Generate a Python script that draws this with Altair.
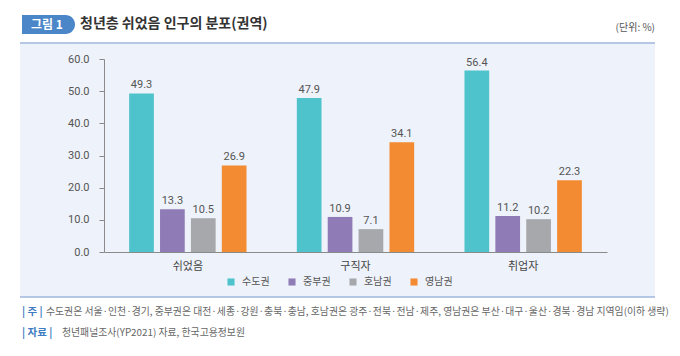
import altair as alt
import pandas as pd

categories = ["쉬었음", "구직자", "취업자"]
regions = ["수도권", "중부권", "호남권", "영남권"]
v_sudo = [49.3, 47.9, 56.4]
v_jungbu = [13.3, 10.9, 11.2]
v_honam = [10.5, 7.1, 10.2]
v_yeongnam = [26.9, 34.1, 22.3]
colors = ["#4fc3cb", "#8f7bb6", "#a6a8ab", "#f38b32"]
y_ticks = [0, 10, 20, 30, 40, 50, 60]

title_text = "청년층 쉬었음 인구의 분포(권역)"
badge_text = "그림 1"
unit_text = "(단위: %)"
note_label = "| 주 |"
note_text = "수도권은 서울·인천·경기, 중부권은 대전·세종·강원·충북·충남, 호남권은 광주·전북·전남·제주, 영남권은 부산·대구·울산·경북·경남 지역임(이하 생략)"
src_label = "| 자료 |"
src_text = "청년패널조사(YP2021) 자료, 한국고용정보원"

rows = []
for series, name in zip([v_sudo, v_jungbu, v_honam, v_yeongnam], regions):
    for c, v in zip(categories, series):
        rows.append({"cat": c, "region": name, "value": v})
df = pd.DataFrame(rows)

FONT = "Roboto, Noto Sans CJK KR"
KFONT = "Noto Sans CJK KR"
one = pd.DataFrame([{"a": 1}])

panel = alt.Chart(one).mark_rect(color="#eef2fa").encode(
    x=alt.value(-84), x2=alt.value(551), y=alt.value(-16), y2=alt.value(238))
top_line = alt.Chart(one).mark_rule(color="#9fb7de", strokeWidth=1.5).encode(
    x=alt.value(-84), x2=alt.value(551), y=alt.value(-16))
bot_line = alt.Chart(one).mark_rule(color="#9fb7de", strokeWidth=1.5).encode(
    x=alt.value(-84), x2=alt.value(551), y=alt.value(238))
badge = alt.Chart(one).mark_rect(color="#4b87c8", cornerRadiusTopRight=10,
                                 cornerRadiusBottomRight=10).encode(
    x=alt.value(-82), x2=alt.value(-29), y=alt.value(-44), y2=alt.value(-25))
badge_t = alt.Chart(one).mark_text(text=badge_text, color="white", fontWeight="bold",
                                   fontSize=12, font=KFONT, align="center",
                                   baseline="middle").encode(
    x=alt.value(-57), y=alt.value(-34.5))
title_t = alt.Chart(one).mark_text(text=title_text, color="#333333", fontWeight="bold",
                                   fontSize=14, font=KFONT, align="left",
                                   baseline="middle").encode(
    x=alt.value(-24), y=alt.value(-35))
unit_t = alt.Chart(one).mark_text(text=unit_text, color="#555555", fontSize=10,
                                  font=KFONT, align="right", baseline="middle").encode(
    x=alt.value(551), y=alt.value(-31))
note_l = alt.Chart(one).mark_text(text=note_label, color="#3f7cc2", fontWeight="bold",
                                  fontSize=10.5, font=KFONT, align="left",
                                  baseline="middle").encode(
    x=alt.value(-82), y=alt.value(253))
note_t = alt.Chart(one).mark_text(text=note_text, color="#666666", fontSize=9.85,
                                  font=KFONT, align="left", baseline="middle").encode(
    x=alt.value(-58), y=alt.value(253))
src_l = alt.Chart(one).mark_text(text=src_label, color="#3f7cc2", fontWeight="bold",
                                 fontSize=10.5, font=KFONT, align="left",
                                 baseline="middle").encode(
    x=alt.value(-82), y=alt.value(274))
src_t = alt.Chart(one).mark_text(text=src_text, color="#666666", fontSize=9.85,
                                 font=KFONT, align="left", baseline="middle").encode(
    x=alt.value(-42), y=alt.value(274))

xenc = alt.X("cat:N", sort=categories,
             scale=alt.Scale(paddingInner=0.3, paddingOuter=0.15),
             axis=alt.Axis(title=None, labelAngle=0, ticks=False, domainColor="#8a8a8a",
                           labelColor="#444444", labelFont=KFONT, labelFontSize=11,
                           labelPadding=8, zindex=1))
xoff = alt.XOffset("region:N", sort=regions, scale=alt.Scale(paddingInner=0.2))
yenc = alt.Y("value:Q", scale=alt.Scale(domain=[0, 60]),
             axis=alt.Axis(title=None, values=y_ticks, format=".1f", grid=False,
                           tickSize=5, tickColor="#8a8a8a", domainColor="#8a8a8a",
                           labelColor="#555555", labelFont=FONT, labelFontSize=11,
                           labelPadding=10, labelOverlap=False, zindex=1))

base = alt.Chart(df).encode(x=xenc, xOffset=xoff, y=yenc)

bars = base.mark_bar().encode(
    color=alt.Color("region:N", sort=regions,
                    scale=alt.Scale(domain=regions, range=colors),
                    legend=alt.Legend(title=None, orient="none", direction="horizontal",
                                      legendX=122, legendY=218, columns=4,
                                      symbolType="square", symbolSize=50,
                                      symbolStrokeWidth=0, columnPadding=17,
                                      labelFont=KFONT, labelFontSize=10,
                                      labelColor="#555555", labelOffset=6, zindex=1)),
)
labels = base.mark_text(baseline="bottom", dy=-3, fontSize=11, font=FONT,
                        color="#555555").encode(text=alt.Text("value:Q", format=".1f"))

chart = alt.layer(panel, top_line, bot_line, badge, badge_t, title_t, unit_t,
                  note_l, note_t, src_l, src_t, bars, labels).properties(
    width=503, height=193,
    autosize=alt.AutoSizeParams(type="none"),
    padding={"left": 96, "top": 51, "right": 65, "bottom": 96},
    background="white",
).configure_view(stroke=None)

chart.save("out.html", embed_options={"renderer": "svg", "actions": False})
